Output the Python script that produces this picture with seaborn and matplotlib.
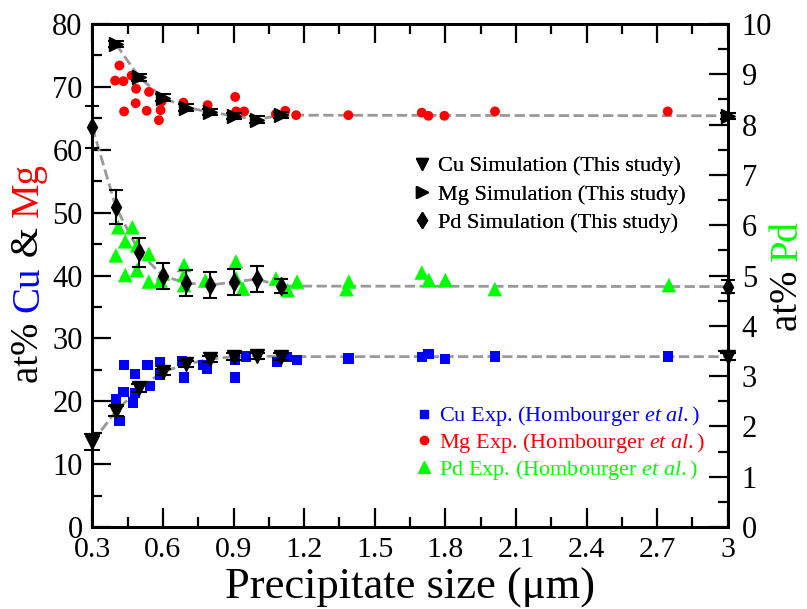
import matplotlib
matplotlib.use('Agg')
import matplotlib.pyplot as plt
import seaborn as sns
import numpy as np
from matplotlib.lines import Line2D
from matplotlib.ticker import MultipleLocator

# ---- données ----
# simulations (this study)
sim_x = [0.3, 0.4, 0.5, 0.6, 0.7, 0.8, 0.9, 1.0, 1.1, 3.0]
cu_sim = [13.5, 18.4, 22.1, 24.7, 25.9, 26.7, 27.1, 27.2, 27.1, 27.1]
cu_sim_err = [1.3, 0.8, 0.6, 0.5, 0.5, 0.5, 0.5, 0.5, 0.5, 0.5]
mg_sim_x = [0.4, 0.5, 0.6, 0.7, 0.8, 0.9, 1.0, 1.1, 3.0]
mg_sim = [76.8, 71.5, 68.3, 66.7, 66.0, 65.4, 64.8, 65.5, 65.4]
mg_sim_err = [0.5, 0.5, 0.5, 0.5, 0.5, 0.5, 0.5, 0.5, 0.5]
pd_sim = [7.95, 6.36, 5.46, 4.99, 4.85, 4.81, 4.87, 4.93, 4.79, 4.78]
pd_sim_err = [0.42, 0.34, 0.29, 0.26, 0.25, 0.25, 0.25, 0.26, 0.14, 0.13]

# experimental (Hombourger et al.)
cu_exp_x = [0.40, 0.415, 0.432, 0.436, 0.472, 0.481, 0.481, 0.535, 0.545, 0.588,
            0.588, 0.68, 0.69, 0.772, 0.786, 0.906, 0.906, 0.952, 1.084, 1.126,
            1.171, 1.388, 1.70, 1.728, 1.80, 2.011, 2.745]
cu_exp_y = [20.3, 16.9, 21.5, 25.8, 19.8, 21.3, 24.3, 25.8, 22.4, 24.2,
            26.3, 26.4, 23.8, 25.8, 25.2, 26.6, 23.8, 27.1, 26.3, 27.0,
            26.6, 26.8, 27.0, 27.5, 26.7, 27.1, 27.1]
mg_exp_x = [0.397, 0.415, 0.432, 0.435, 0.467, 0.484, 0.486, 0.531, 0.541, 0.583,
            0.59, 0.595, 0.687, 0.79, 0.907, 0.911, 0.945, 1.08, 1.12, 1.166,
            1.388, 1.70, 1.728, 1.796, 2.011, 2.745]
mg_exp_y = [71.0, 73.4, 70.9, 66.1, 71.8, 67.4, 69.7, 66.2, 69.2, 64.7,
            66.3, 67.7, 67.5, 67.1, 68.4, 66.1, 66.1, 65.7, 66.2, 65.5,
            65.5, 65.9, 65.4, 65.4, 66.1, 66.1]
pd_exp_x = [0.40, 0.41, 0.44, 0.44, 0.47, 0.49, 0.49, 0.54, 0.54, 0.59,
            0.60, 0.69, 0.69, 0.69, 0.78, 0.91, 0.91, 0.94, 1.08, 1.13,
            1.17, 1.38, 1.39, 1.70, 1.73, 1.80, 2.01, 2.75]
pd_exp_y = [5.40, 5.96, 5.68, 5.01, 5.96, 5.60, 5.11, 5.43, 4.88, 4.90,
            5.04, 5.21, 5.01, 4.81, 4.90, 5.28, 4.95, 4.74, 4.94, 4.71,
            4.88, 4.73, 4.88, 5.06, 4.91, 4.91, 4.73, 4.81]

x_ticks = [0.3, 0.6, 0.9, 1.2, 1.5, 1.8, 2.1, 2.4, 2.7, 3.0]
x_ticklabels = ['0.3', '0.6', '0.9', '1.2', '1.5', '1.8', '2.1', '2.4', '2.7', '3']

# ---- style ----
sns.set_style('ticks')
plt.rcParams['font.family'] = ['Liberation Serif', 'DejaVu Serif']
plt.rcParams['mathtext.fontset'] = 'custom'
plt.rcParams['mathtext.rm'] = 'Liberation Serif'
plt.rcParams['mathtext.it'] = 'Liberation Serif:italic'
for k in ('text.color', 'axes.labelcolor', 'xtick.color', 'ytick.color', 'axes.edgecolor'):
    plt.rcParams[k] = 'black'

BLUE, RED, GREEN, GREY = '#0000ff', '#ff0000', '#00ff00', '#999999'

fig = plt.figure(figsize=(8.07, 6.09), dpi=100)
ax = fig.add_axes([0.1144, 0.1346, 0.7874, 0.8260])
ax2 = ax.twinx()

# lignes pointillées des simulations
sns.lineplot(x=sim_x, y=cu_sim, ax=ax, color=GREY, linestyle='--', lw=2, zorder=2)
sns.lineplot(x=mg_sim_x, y=mg_sim, ax=ax, color=GREY, linestyle='--', lw=2, zorder=2)
sns.lineplot(x=sim_x, y=pd_sim, ax=ax2, color=GREY, linestyle='--', lw=2, zorder=2)

# expérience
sns.scatterplot(x=cu_exp_x, y=cu_exp_y, ax=ax, marker='s', color=BLUE, s=55,
                edgecolor='none', zorder=3)
sns.scatterplot(x=mg_exp_x, y=mg_exp_y, ax=ax, marker='o', color=RED, s=50,
                edgecolor='none', zorder=3)
sns.scatterplot(x=pd_exp_x, y=pd_exp_y, ax=ax2, marker='^', color=GREEN, s=110,
                edgecolor='none', zorder=3)

# simulations avec barres d'erreur
ax.errorbar(sim_x, cu_sim, yerr=cu_sim_err, fmt='v', color='black', ms=10,
            capsize=6, elinewidth=1.5, capthick=1.5, zorder=5, clip_on=False)
ax.errorbar(mg_sim_x, mg_sim, yerr=mg_sim_err, fmt='>', color='black', ms=10,
            capsize=6, elinewidth=1.5, capthick=1.5, zorder=5, clip_on=False)
ax2.errorbar(sim_x, pd_sim, yerr=pd_sim_err, fmt='d', color='black', ms=9,
             capsize=5, elinewidth=1.5, capthick=1.5, zorder=5, clip_on=False)

# axes
ax.set_xlim(0.3, 3.0)
ax.set_ylim(0, 80)
ax2.set_ylim(0, 10)
ax.set_xticks(x_ticks)
ax.set_xticklabels(x_ticklabels)
ax.xaxis.set_minor_locator(MultipleLocator(0.15))
ax.yaxis.set_major_locator(MultipleLocator(10))
ax.yaxis.set_minor_locator(MultipleLocator(5))
ax2.yaxis.set_major_locator(MultipleLocator(1))
ax2.yaxis.set_minor_locator(MultipleLocator(0.5))

for a in (ax, ax2):
    a.tick_params(which='major', direction='in', length=14, width=1.6, labelsize=22)
    a.tick_params(which='minor', direction='in', length=7, width=1.6)
    for sp in a.spines.values():
        sp.set_linewidth(2)
        sp.set_visible(True)
ax.tick_params(which='both', top=True, right=False)
ax.tick_params(axis='y', pad=7)
ax.tick_params(axis='x', pad=7, labelsize=21.5)
ax2.tick_params(axis='y', pad=10)
ax.set_xlabel('Precipitate size (μm)', fontsize=32, va='baseline')
ax.xaxis.set_label_coords(0.5, -0.143)
ax.set_ylabel('')
ax2.set_ylabel('')

# légendes
h_sim = [Line2D([], [], marker='v', color='black', ls='none', ms=9),
         Line2D([], [], marker='>', color='black', ls='none', ms=9),
         Line2D([], [], marker='d', color='black', ls='none', ms=8)]
l_sim = ['Cu Simulation (This study)', 'Mg Simulation (This study)',
         'Pd Simulation (This study)']
leg1 = ax.legend(h_sim, l_sim, loc='upper left', bbox_to_anchor=(0.488, 0.760),
                 frameon=False, fontsize=16, handlelength=0.8, handletextpad=0.3,
                 labelspacing=0.35, borderpad=0)
ax.add_artist(leg1)

h_exp = [Line2D([], [], marker='s', color=BLUE, ls='none', ms=6),
         Line2D([], [], marker='o', color=RED, ls='none', ms=6),
         Line2D([], [], marker='^', color=GREEN, ls='none', ms=9)]
l_exp = [r'Cu Exp. (Hombourger $\mathit{et\ al.}$)',
         r'Mg Exp. (Hombourger $\mathit{et\ al.}$)',
         r'Pd Exp. (Hombourger $\mathit{et\ al.}$)']
leg2 = ax2.legend(h_exp, l_exp, loc='upper left', bbox_to_anchor=(0.49, 0.266),
                  frameon=False, fontsize=16, handlelength=0.8, handletextpad=0.3,
                  labelspacing=0.12, borderpad=0)
for txt, c in zip(leg2.get_texts(), [BLUE, RED, GREEN]):
    txt.set_color(c)


def colored_label(x, yc, parts, size):
    """Titre vertical en plusieurs couleurs (ligne de base à x)."""
    r = fig.canvas.get_renderer()
    texts = [fig.text(x, 0, s, color=c, fontsize=size, rotation=90,
                      rotation_mode='anchor', ha='left', va='baseline')
             for s, c in parts]
    lens = [t.get_window_extent(r).height / fig.bbox.height for t in texts]
    y = yc - sum(lens) / 2
    for t, l in zip(texts, lens):
        t.set_y(y)
        y += l


colored_label(0.047, 0.552, [('at% ', 'black'), ('Cu', BLUE), (' & ', 'black'),
                             ('Mg', RED)], 28)
colored_label(0.987, 0.547, [('at% ', 'black'), ('Pd', GREEN)], 28)

fig.savefig('out.png', dpi=100)
